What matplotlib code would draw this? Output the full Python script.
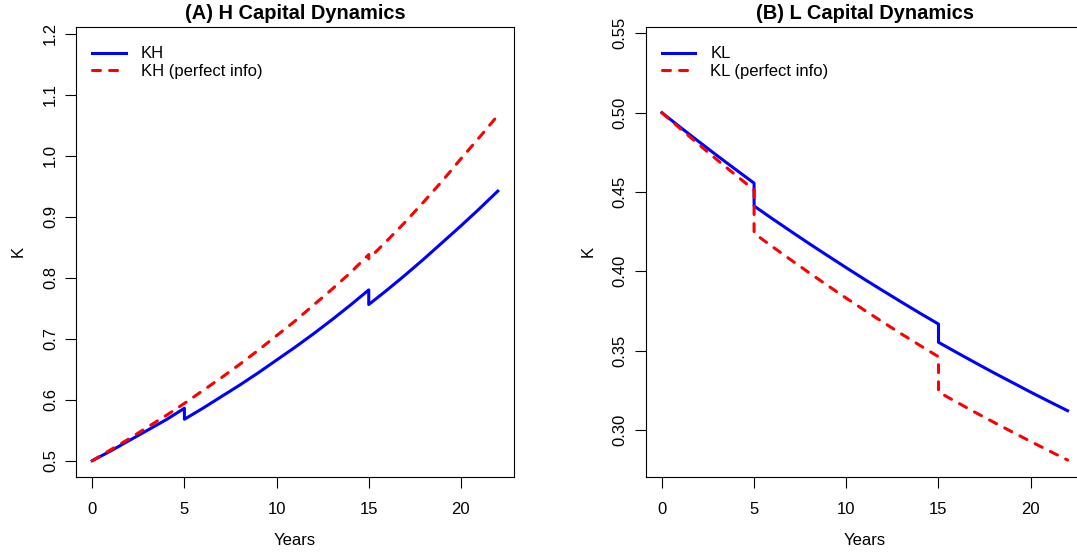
import matplotlib
matplotlib.use("Agg")
import matplotlib.pyplot as plt

plt.rcParams['font.family'] = ['Liberation Sans', 'DejaVu Sans']

# ---- data (jump years appear twice: before / after) ----
years_kh = [0, 1, 2, 3, 4, 5, 5, 6, 7, 8, 9, 10, 11, 12, 13, 14, 15, 15,
            16, 17, 18, 19, 20, 21, 22]
kh = [0.500, 0.516, 0.533, 0.550, 0.567, 0.586, 0.568, 0.586, 0.605, 0.624,
      0.644, 0.665, 0.686, 0.708, 0.731, 0.755, 0.780, 0.756,
      0.780, 0.805, 0.831, 0.858, 0.885, 0.913, 0.942]

years_kh_pi = [0, 1, 2, 3, 4, 5, 6, 7, 8, 9, 10, 11, 12, 13, 14, 15, 15,
               16, 17, 18, 19, 20, 21, 22]
kh_pi = [0.500, 0.518, 0.536, 0.555, 0.574, 0.594, 0.615, 0.636, 0.658,
         0.681, 0.705, 0.729, 0.755, 0.781, 0.808, 0.838, 0.831,
         0.861, 0.892, 0.925, 0.959, 0.995, 1.030, 1.066]

years_kl = years_kh
kl = [0.5000, 0.4908, 0.4818, 0.4729, 0.4642, 0.4556, 0.4412, 0.4331,
      0.4252, 0.4174, 0.4098, 0.4023, 0.3949, 0.3877, 0.3806, 0.3736,
      0.3668, 0.3553, 0.3488, 0.3424, 0.3361, 0.3300, 0.3239, 0.3180,
      0.3122]

years_kl_pi = years_kh
kl_pi = [0.5000, 0.4899, 0.4800, 0.4702, 0.4607, 0.4513, 0.4240, 0.4155,
         0.4072, 0.3990, 0.3910, 0.3831, 0.3754, 0.3679, 0.3605, 0.3533,
         0.3462, 0.3240, 0.3175, 0.3111, 0.3049, 0.2988, 0.2928, 0.2869,
         0.2811]

xticks = [0, 5, 10, 15, 20]
yticks_a = [0.5, 0.6, 0.7, 0.8, 0.9, 1.0, 1.1, 1.2]
yticks_b = [0.30, 0.35, 0.40, 0.45, 0.50, 0.55]

fig = plt.figure(figsize=(10.77, 5.52), dpi=100)
ax_a = fig.add_axes([0.07057, 0.13641, 0.4067, 0.81468])
ax_b = fig.add_axes([0.5995, 0.13641, 0.4068, 0.81468])

dash = (2.6, 3.0)


def style_axes(ax, title, yticks, ylabels, ylim):
    ax.set_xlim(-0.88, 22.88)
    ax.set_ylim(*ylim)
    ax.set_xticks(xticks)
    ax.set_yticks(yticks)
    ax.set_yticklabels(ylabels, rotation=90, va='center')
    ax.tick_params(direction='out', length=8, width=0.8, labelsize=12)
    ax.tick_params(axis='x', pad=10)
    ax.tick_params(axis='y', pad=5)
    for s in ax.spines.values():
        s.set_linewidth(0.8)
    ax.set_title(title, fontsize=14.4, fontweight='bold', pad=5.5)
    ax.set_xlabel("Years", fontsize=12, labelpad=11.5)
    ax.set_ylabel("K", fontsize=12, labelpad=12.5)
    ax.legend(loc='upper left', bbox_to_anchor=(0.0375, 0.957), frameon=False,
              fontsize=12, handlelength=2.0, handletextpad=0.9,
              labelspacing=0.15, borderaxespad=0, borderpad=0)


ax_a.plot(years_kh, kh, color='#0000FF', lw=2.2, label='KH')
ax_a.plot(years_kh_pi, kh_pi, color='#FF0000', lw=2.2, dashes=dash,
          dash_capstyle='round', label='KH (perfect info)')
style_axes(ax_a, "(A) H Capital Dynamics", yticks_a,
           ["0.5", "0.6", "0.7", "0.8", "0.9", "1.0", "1.1", "1.2"],
           (0.4738, 1.211))

ax_b.plot(years_kl, kl, color='#0000FF', lw=2.2, label='KL')
ax_b.plot(years_kl_pi, kl_pi, color='#FF0000', lw=2.2, dashes=dash,
          dash_capstyle='round', label='KL (perfect info)')
style_axes(ax_b, "(B) L Capital Dynamics", yticks_b,
           ["0.30", "0.35", "0.40", "0.45", "0.50", "0.55"],
           (0.2706, 0.554))

fig.savefig("out.png", dpi=100)
